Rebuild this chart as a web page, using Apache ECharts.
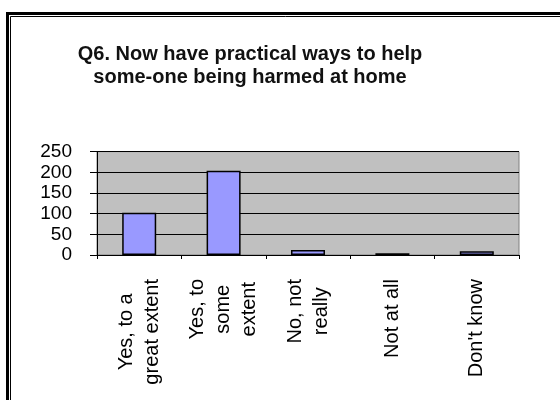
<!DOCTYPE html>
<html>
<head>
<meta charset="utf-8">
<script src="https://cdn.jsdelivr.net/npm/echarts@6/dist/echarts.min.js"></script>
<style>html,body{margin:0;padding:0;background:#fff}#c{width:560px;height:400px}</style>
</head>
<body>
<div id="c"></div>
<script>
var titleText = 'Q6. Now have practical ways to help\nsome-one being harmed at home';
var categories = ['Yes, to a\ngreat extent', 'Yes, to\nsome\nextent', 'No, not\nreally', 'Not at all', "Don't know"];
var values = [102, 204, 12, 4, 9];
var yTicks = { min: 0, max: 250, interval: 50 };

var FONT = "'Liberation Sans', Arial, sans-serif";
var chart = echarts.init(document.getElementById('c'), null, { renderer: 'canvas' });
chart.setOption({
  animation: false,
  backgroundColor: '#ffffff',
  title: {
    text: titleText,
    left: 245,
    top: 38,
    textAlign: 'center',
    textStyle: { fontFamily: FONT, fontSize: 20, fontWeight: 'bold', color: '#111', lineHeight: 23 }
  },
  graphic: [
    { type: 'rect', shape: { x: 7.5, y: 13.5, width: 600, height: 500 }, style: { fill: 'none', stroke: '#000', lineWidth: 3 }, z: 100 },
    { type: 'rect', shape: { x: 10.5, y: 16.5, width: 600, height: 500 }, style: { fill: 'none', stroke: '#000', lineWidth: 1 }, z: 100 }
  ],
  grid: {
    left: 97, right: 41, top: 151.6, bottom: 145,
    show: true, backgroundColor: '#C0C0C0', borderColor: '#808080', borderWidth: 1,
    containLabel: false
  },
  xAxis: {
    type: 'category',
    data: categories,
    axisLine: { lineStyle: { color: '#000', width: 1 } },
    axisTick: { show: true, length: 4, inside: false, alignWithLabel: false, lineStyle: { color: '#000' } },
    axisLabel: {
      interval: 0,
      rotate: 90,
      margin: 24,
      fontFamily: FONT,
      fontSize: 20,
      color: '#000',
      formatter: function (v) {
        return v.split('\n').map(function (l) { return '{c|' + l + '}'; }).join('\n');
      },
      rich: { c: { align: 'center', fontFamily: FONT, fontSize: 20, lineHeight: 26, color: '#000' } }
    },
    splitLine: { show: false }
  },
  yAxis: {
    type: 'value',
    min: yTicks.min, max: yTicks.max, interval: yTicks.interval,
    axisLine: { show: true, lineStyle: { color: '#000', width: 1 } },
    axisTick: { show: true, length: 7, lineStyle: { color: '#000' } },
    axisLabel: { margin: 25, fontFamily: FONT, fontSize: 19, color: '#000' },
    splitLine: { show: true, lineStyle: { color: '#000', width: 1 } }
  },
  series: [{
    type: 'bar',
    data: values,
    barWidth: 34,
    itemStyle: { color: '#9999FF', borderColor: '#000', borderWidth: 1.5 }
  }]
});
</script>
</body>
</html>
